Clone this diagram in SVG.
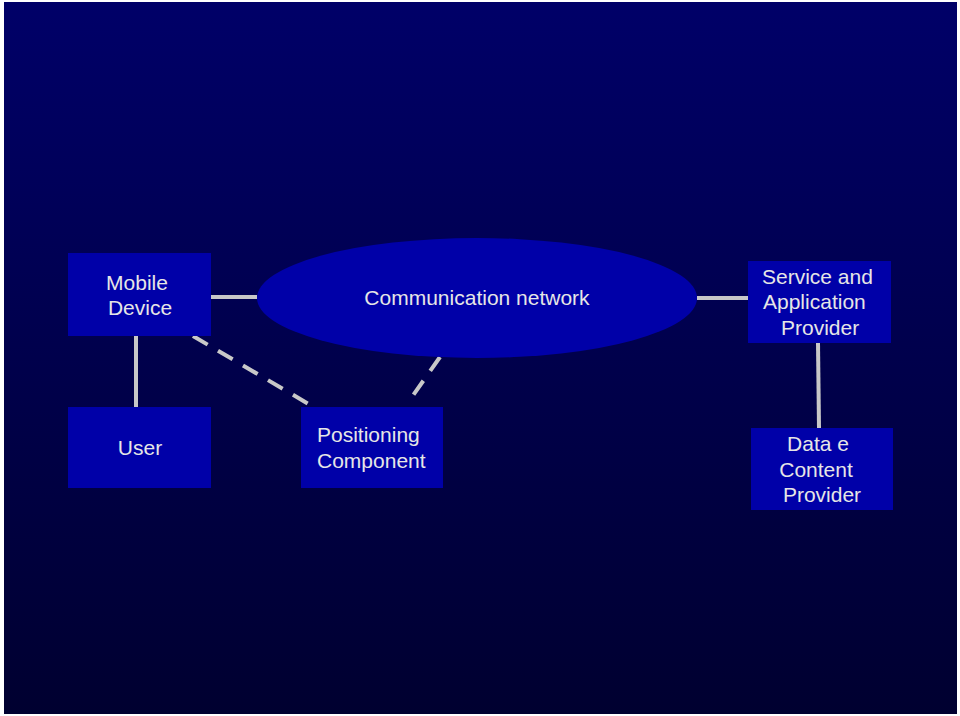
<svg xmlns="http://www.w3.org/2000/svg" width="960" height="716" viewBox="0 0 960 716">
<defs>
<linearGradient id="bg" x1="0" y1="0" x2="0" y2="1">
<stop offset="0" stop-color="#000068"/>
<stop offset="1" stop-color="#000030"/>
</linearGradient>
<style>
.box{fill:#0000a8;}
.t{font-family:"Liberation Sans",Arial,sans-serif;font-size:21px;fill:#e6e6e6;}
.c{text-anchor:middle;}
.ln{stroke:#c8c8c8;stroke-width:4;fill:none;}
.dash{stroke-dasharray:17 12;}
</style>
</defs>
<rect x="0" y="0" width="960" height="716" fill="#ffffff"/>
<rect x="4" y="2" width="953" height="712" fill="url(#bg)"/>
<g id="connectors">
<line class="ln" x1="211" y1="297" x2="257" y2="297"/>
<line class="ln" x1="697" y1="298" x2="748" y2="298"/>
<line class="ln" x1="136" y1="336" x2="136" y2="407"/>
<line class="ln" x1="818" y1="343" x2="819" y2="428"/>
<line class="ln dash" x1="193" y1="336" x2="312" y2="406"/>
<line class="ln dash" x1="440" y1="357" x2="407" y2="404"/>
</g>
<g id="mobile-device">
<rect class="box" x="68" y="253" width="143" height="83"/>
<text class="t c" x="137" y="290">Mobile</text>
<text class="t c" x="140" y="315">Device</text>
</g>
<g id="communication-network">
<ellipse cx="477" cy="298" rx="220" ry="60" fill="#0000a8"/>
<text class="t c" x="477" y="305">Communication network</text>
</g>
<g id="service-provider">
<rect class="box" x="748" y="261" width="143" height="82"/>
<text class="t" x="762" y="284">Service and</text>
<text class="t" x="763" y="309">Application</text>
<text class="t" x="781" y="335">Provider</text>
</g>
<g id="user">
<rect class="box" x="68" y="407" width="143" height="81"/>
<text class="t c" x="140" y="455">User</text>
</g>
<g id="positioning-component">
<rect class="box" x="301" y="407" width="142" height="81"/>
<text class="t" x="317" y="442">Positioning</text>
<text class="t" x="317" y="468">Component</text>
</g>
<g id="data-content-provider">
<rect class="box" x="751" y="428" width="142" height="82"/>
<text class="t c" x="818" y="451">Data e</text>
<text class="t c" x="816" y="477">Content</text>
<text class="t c" x="822" y="502">Provider</text>
</g>
</svg>
